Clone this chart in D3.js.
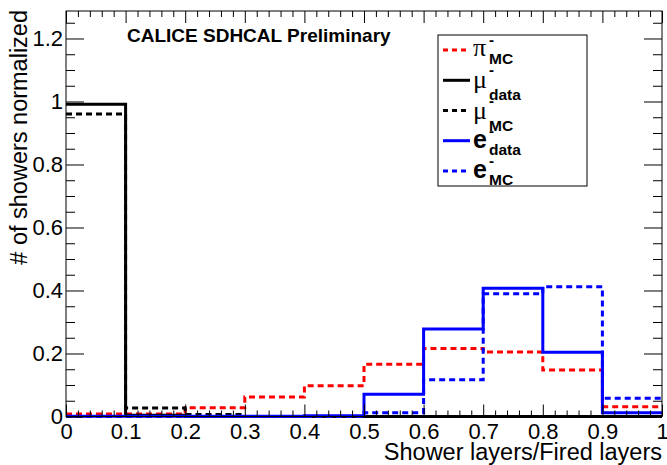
<!DOCTYPE html>
<html>
<head>
<meta charset="utf-8">
<script src="https://cdn.jsdelivr.net/npm/d3@7"></script>
<style>
  body { margin: 0; background: #fff; }
  text { font-family: "Liberation Sans", Arial, sans-serif; fill: #000; }
</style>
</head>
<body>
<div id="chart"></div>
<script>
// bin edges of the histograms (10 bins of 0.1)
const binEdges = [0, 0.1, 0.2, 0.3, 0.4, 0.5, 0.6, 0.7, 0.8, 0.9, 1.0];

// normalized contents per bin
const piMC   = [0.008, 0.008, 0.028, 0.062, 0.098, 0.166, 0.216, 0.205, 0.148, 0.031];
const muData = [0.991, 0.004, 0, 0, 0, 0, 0, 0, 0, 0];
const muMC   = [0.960, 0.027, 0.006, 0, 0, 0, 0, 0, 0, 0];
const eData  = [0.001, 0.001, 0.001, 0.001, 0.002, 0.071, 0.278, 0.407, 0.204, 0.012];
const eMC    = [0, 0, 0, 0, 0, 0.012, 0.117, 0.390, 0.412, 0.058];

const xTicks = [0, 0.1, 0.2, 0.3, 0.4, 0.5, 0.6, 0.7, 0.8, 0.9, 1];
const xTickLabels = ["0", "0.1", "0.2", "0.3", "0.4", "0.5", "0.6", "0.7", "0.8", "0.9", "1"];
const yTicks = [0, 0.2, 0.4, 0.6, 0.8, 1, 1.2];
const yTickLabels = ["0", "0.2", "0.4", "0.6", "0.8", "1", "1.2"];

const width = 667, height = 465;
const margin = {top: 11, right: 5, bottom: 48.5, left: 66};
const yMax = 1.2873;

const svg = d3.select("#chart").append("svg")
    .attr("width", width)
    .attr("height", height);

const innerWidth = width - margin.left - margin.right;
const innerHeight = height - margin.top - margin.bottom;

const xScale = d3.scaleLinear().domain([0, 1]).range([0, innerWidth]);
const yScale = d3.scaleLinear().domain([0, yMax]).range([innerHeight, 0]);

const g = svg.append("g")
    .attr("transform", `translate(${margin.left}, ${margin.top})`);

// histograms
const series = [
  {name: "pi",  sym: "\u03c0", sub: "MC",   values: piMC,   color: "#ff0000", dash: "6 4"},
  {name: "mud", sym: "\u03bc", sub: "data", values: muData, color: "#000000", dash: null},
  {name: "mum", sym: "\u03bc", sub: "MC",   values: muMC,   color: "#000000", dash: "6 4"},
  {name: "ed",  sym: "e",      sub: "data", values: eData,  color: "#0000ff", dash: null},
  {name: "em",  sym: "e",      sub: "MC",   values: eMC,    color: "#0000ff", dash: "6 4"}
];

const stepLine = d3.line()
    .x(d => xScale(d[0]))
    .y(d => yScale(d[1]))
    .curve(d3.curveStepAfter);

series.forEach(s => {
  const pts = binEdges.map((e, i) => [e, s.values[Math.min(i, s.values.length - 1)]]);
  g.append("path")
    .attr("d", stepLine(pts))
    .attr("fill", "none")
    .attr("stroke", s.color)
    .attr("stroke-width", 3)
    .attr("stroke-dasharray", s.dash);
});

// axes, ticks pointing inward like ROOT
const xMinor = d3.range(0, 50.5, 1).filter(i => i % 5 !== 0).map(i => i / 50);
const yMinor = d3.range(0, 26, 1).filter(i => i % 4 !== 0).map(i => i / 20);

const xAxis = d3.axisBottom(xScale).tickValues(xTicks).tickSize(-12).tickPadding(7)
    .tickFormat((d, i) => xTickLabels[i]);
const xAxisMinor = d3.axisBottom(xScale).tickValues(xMinor).tickSize(-6).tickFormat("");
const xTop = d3.axisTop(xScale).tickValues(xTicks).tickSize(-12).tickFormat("");
const xTopMinor = d3.axisTop(xScale).tickValues(xMinor).tickSize(-6).tickFormat("");

const yAxis = d3.axisLeft(yScale).tickValues(yTicks).tickSize(-18).tickPadding(3)
    .tickFormat((d, i) => yTickLabels[i]);
const yAxisMinor = d3.axisLeft(yScale).tickValues(yMinor).tickSize(-9).tickFormat("");
const yRight = d3.axisRight(yScale).tickValues(yTicks).tickSize(-18).tickFormat("");
const yRightMinor = d3.axisRight(yScale).tickValues(yMinor).tickSize(-9).tickFormat("");

const styleAxis = sel => {
  sel.select(".domain").remove();
  sel.selectAll("line").attr("stroke", "#000").attr("stroke-width", 1);
  sel.selectAll("text").style("font-size", "22px").attr("fill", "#000")
     .style("font-family", "'Liberation Sans', Arial, sans-serif");
};

g.append("g").attr("transform", `translate(0, ${innerHeight})`).call(xAxis).call(styleAxis);
g.append("g").attr("transform", `translate(0, ${innerHeight})`).call(xAxisMinor).call(styleAxis);
g.append("g").call(xTop).call(styleAxis);
g.append("g").call(xTopMinor).call(styleAxis);
g.append("g").call(yAxis).call(styleAxis);
g.append("g").call(yAxisMinor).call(styleAxis);
g.append("g").attr("transform", `translate(${innerWidth}, 0)`).call(yRight).call(styleAxis);
g.append("g").attr("transform", `translate(${innerWidth}, 0)`).call(yRightMinor).call(styleAxis);

// frame
g.append("rect")
  .attr("x", 0).attr("y", 0)
  .attr("width", innerWidth).attr("height", innerHeight)
  .attr("fill", "none")
  .attr("stroke", "#000")
  .attr("stroke-width", 1);

// axis titles
svg.append("text")
  .attr("x", margin.left + innerWidth)
  .attr("y", 460)
  .attr("text-anchor", "end")
  .style("font-size", "23.5px")
  .text("Shower layers/Fired layers");

svg.append("text")
  .attr("transform", `translate(27, ${margin.top - 1}) rotate(-90)`)
  .attr("text-anchor", "end")
  .style("font-size", "23.5px")
  .text("# of showers normalized");

// label
svg.append("text")
  .attr("x", 127)
  .attr("y", 42)
  .style("font-size", "19px")
  .style("font-weight", "bold")
  .text("CALICE SDHCAL Preliminary");

// legend
const legend = svg.append("g");
legend.append("rect")
  .attr("x", 438).attr("y", 35)
  .attr("width", 149).attr("height", 151)
  .attr("fill", "#fff")
  .attr("stroke", "#000")
  .attr("stroke-width", 1);

series.forEach((s, i) => {
  const cy = 35 + 15.1 + i * 30.2;
  legend.append("line")
    .attr("x1", 443).attr("x2", 470)
    .attr("y1", cy).attr("y2", cy)
    .attr("stroke", s.color)
    .attr("stroke-width", 3)
    .attr("stroke-dasharray", s.dash ? "5 4" : null);

  const isGreek = s.sym !== "e";
  legend.append("text")
    .attr("x", 473)
    .attr("y", cy + (s.sym === "\u03bc" ? 8 : (isGreek ? 6 : 7)))
    .style("font-size", isGreek ? "26px" : "25px")
    .style("font-weight", isGreek ? "normal" : "bold")
    .style("font-family", isGreek ? "'Liberation Serif', serif" : "'Liberation Sans', Arial, sans-serif")
    .text(s.sym);
  legend.append("text")
    .attr("x", 489)
    .attr("y", cy - 5)
    .style("font-size", "15px")
    .style("font-weight", "bold")
    .text("-");
  legend.append("text")
    .attr("x", 489)
    .attr("y", cy + (s.sym === "\u03bc" ? 20 : 14))
    .style("font-size", "15.5px")
    .style("font-weight", "bold")
    .text(s.sub);
});
</script>
</body>
</html>
